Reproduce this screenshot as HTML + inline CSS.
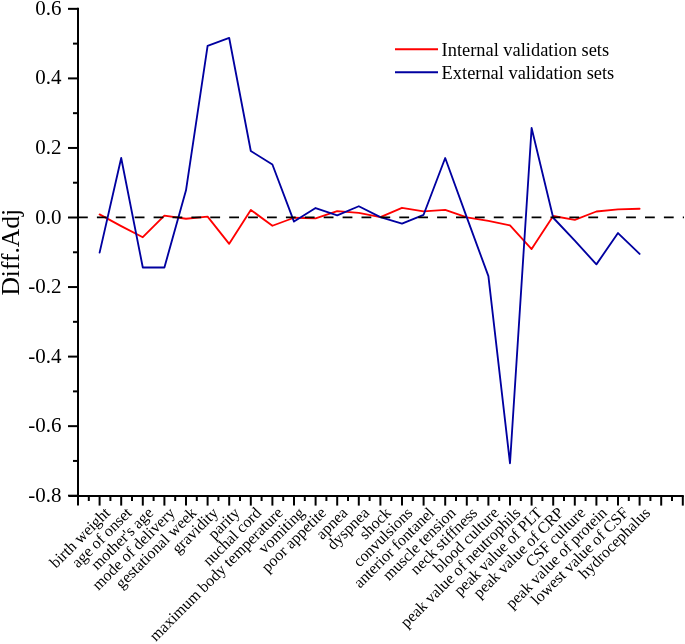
<!DOCTYPE html><html><head><meta charset="utf-8"><style>html,body{margin:0;padding:0;background:#fff;}svg{display:block;will-change:transform;}text{font-family:"Liberation Serif",serif;fill:#000;}</style></head><body>
<svg width="685" height="644" viewBox="0 0 685 644">
<line x1="78.0" y1="7.85" x2="78.0" y2="495.99999999999994" stroke="#000" stroke-width="2"/>
<line x1="68.0" y1="8.85" x2="78.0" y2="8.85" stroke="#000" stroke-width="2"/>
<line x1="73.0" y1="43.62" x2="78.0" y2="43.62" stroke="#000" stroke-width="2"/>
<text x="61.6" y="14.85" font-size="21.0" text-anchor="end">0.6</text>
<line x1="68.0" y1="78.40" x2="78.0" y2="78.40" stroke="#000" stroke-width="2"/>
<line x1="73.0" y1="113.17" x2="78.0" y2="113.17" stroke="#000" stroke-width="2"/>
<text x="61.6" y="84.40" font-size="21.0" text-anchor="end">0.4</text>
<line x1="68.0" y1="147.95" x2="78.0" y2="147.95" stroke="#000" stroke-width="2"/>
<line x1="73.0" y1="182.72" x2="78.0" y2="182.72" stroke="#000" stroke-width="2"/>
<text x="61.6" y="153.95" font-size="21.0" text-anchor="end">0.2</text>
<line x1="68.0" y1="217.50" x2="78.0" y2="217.50" stroke="#000" stroke-width="2"/>
<line x1="73.0" y1="252.28" x2="78.0" y2="252.28" stroke="#000" stroke-width="2"/>
<text x="61.6" y="223.50" font-size="21.0" text-anchor="end">0.0</text>
<line x1="68.0" y1="287.05" x2="78.0" y2="287.05" stroke="#000" stroke-width="2"/>
<line x1="73.0" y1="321.82" x2="78.0" y2="321.82" stroke="#000" stroke-width="2"/>
<text x="61.6" y="293.05" font-size="21.0" text-anchor="end">-0.2</text>
<line x1="68.0" y1="356.60" x2="78.0" y2="356.60" stroke="#000" stroke-width="2"/>
<line x1="73.0" y1="391.38" x2="78.0" y2="391.38" stroke="#000" stroke-width="2"/>
<text x="61.6" y="362.60" font-size="21.0" text-anchor="end">-0.4</text>
<line x1="68.0" y1="426.15" x2="78.0" y2="426.15" stroke="#000" stroke-width="2"/>
<line x1="73.0" y1="460.93" x2="78.0" y2="460.93" stroke="#000" stroke-width="2"/>
<text x="61.6" y="432.15" font-size="21.0" text-anchor="end">-0.6</text>
<line x1="68.0" y1="495.70" x2="78.0" y2="495.70" stroke="#000" stroke-width="2"/>
<text x="61.6" y="501.70" font-size="21.0" text-anchor="end">-0.8</text>
<line x1="69.0" y1="496.00" x2="683.8000000000001" y2="496.00" stroke="#000" stroke-width="2"/>
<line x1="78.00" y1="496.00" x2="78.00" y2="505.60" stroke="#000" stroke-width="2"/>
<line x1="88.80" y1="496.00" x2="88.80" y2="501.00" stroke="#000" stroke-width="2"/>
<line x1="99.60" y1="496.00" x2="99.60" y2="505.60" stroke="#000" stroke-width="2"/>
<line x1="110.40" y1="496.00" x2="110.40" y2="501.00" stroke="#000" stroke-width="2"/>
<line x1="121.20" y1="496.00" x2="121.20" y2="505.60" stroke="#000" stroke-width="2"/>
<line x1="132.00" y1="496.00" x2="132.00" y2="501.00" stroke="#000" stroke-width="2"/>
<line x1="142.80" y1="496.00" x2="142.80" y2="505.60" stroke="#000" stroke-width="2"/>
<line x1="153.60" y1="496.00" x2="153.60" y2="501.00" stroke="#000" stroke-width="2"/>
<line x1="164.40" y1="496.00" x2="164.40" y2="505.60" stroke="#000" stroke-width="2"/>
<line x1="175.20" y1="496.00" x2="175.20" y2="501.00" stroke="#000" stroke-width="2"/>
<line x1="186.00" y1="496.00" x2="186.00" y2="505.60" stroke="#000" stroke-width="2"/>
<line x1="196.80" y1="496.00" x2="196.80" y2="501.00" stroke="#000" stroke-width="2"/>
<line x1="207.60" y1="496.00" x2="207.60" y2="505.60" stroke="#000" stroke-width="2"/>
<line x1="218.40" y1="496.00" x2="218.40" y2="501.00" stroke="#000" stroke-width="2"/>
<line x1="229.20" y1="496.00" x2="229.20" y2="505.60" stroke="#000" stroke-width="2"/>
<line x1="240.00" y1="496.00" x2="240.00" y2="501.00" stroke="#000" stroke-width="2"/>
<line x1="250.80" y1="496.00" x2="250.80" y2="505.60" stroke="#000" stroke-width="2"/>
<line x1="261.60" y1="496.00" x2="261.60" y2="501.00" stroke="#000" stroke-width="2"/>
<line x1="272.40" y1="496.00" x2="272.40" y2="505.60" stroke="#000" stroke-width="2"/>
<line x1="283.20" y1="496.00" x2="283.20" y2="501.00" stroke="#000" stroke-width="2"/>
<line x1="294.00" y1="496.00" x2="294.00" y2="505.60" stroke="#000" stroke-width="2"/>
<line x1="304.80" y1="496.00" x2="304.80" y2="501.00" stroke="#000" stroke-width="2"/>
<line x1="315.60" y1="496.00" x2="315.60" y2="505.60" stroke="#000" stroke-width="2"/>
<line x1="326.40" y1="496.00" x2="326.40" y2="501.00" stroke="#000" stroke-width="2"/>
<line x1="337.20" y1="496.00" x2="337.20" y2="505.60" stroke="#000" stroke-width="2"/>
<line x1="348.00" y1="496.00" x2="348.00" y2="501.00" stroke="#000" stroke-width="2"/>
<line x1="358.80" y1="496.00" x2="358.80" y2="505.60" stroke="#000" stroke-width="2"/>
<line x1="369.60" y1="496.00" x2="369.60" y2="501.00" stroke="#000" stroke-width="2"/>
<line x1="380.40" y1="496.00" x2="380.40" y2="505.60" stroke="#000" stroke-width="2"/>
<line x1="391.20" y1="496.00" x2="391.20" y2="501.00" stroke="#000" stroke-width="2"/>
<line x1="402.00" y1="496.00" x2="402.00" y2="505.60" stroke="#000" stroke-width="2"/>
<line x1="412.80" y1="496.00" x2="412.80" y2="501.00" stroke="#000" stroke-width="2"/>
<line x1="423.60" y1="496.00" x2="423.60" y2="505.60" stroke="#000" stroke-width="2"/>
<line x1="434.40" y1="496.00" x2="434.40" y2="501.00" stroke="#000" stroke-width="2"/>
<line x1="445.20" y1="496.00" x2="445.20" y2="505.60" stroke="#000" stroke-width="2"/>
<line x1="456.00" y1="496.00" x2="456.00" y2="501.00" stroke="#000" stroke-width="2"/>
<line x1="466.80" y1="496.00" x2="466.80" y2="505.60" stroke="#000" stroke-width="2"/>
<line x1="477.60" y1="496.00" x2="477.60" y2="501.00" stroke="#000" stroke-width="2"/>
<line x1="488.40" y1="496.00" x2="488.40" y2="505.60" stroke="#000" stroke-width="2"/>
<line x1="499.20" y1="496.00" x2="499.20" y2="501.00" stroke="#000" stroke-width="2"/>
<line x1="510.00" y1="496.00" x2="510.00" y2="505.60" stroke="#000" stroke-width="2"/>
<line x1="520.80" y1="496.00" x2="520.80" y2="501.00" stroke="#000" stroke-width="2"/>
<line x1="531.60" y1="496.00" x2="531.60" y2="505.60" stroke="#000" stroke-width="2"/>
<line x1="542.40" y1="496.00" x2="542.40" y2="501.00" stroke="#000" stroke-width="2"/>
<line x1="553.20" y1="496.00" x2="553.20" y2="505.60" stroke="#000" stroke-width="2"/>
<line x1="564.00" y1="496.00" x2="564.00" y2="501.00" stroke="#000" stroke-width="2"/>
<line x1="574.80" y1="496.00" x2="574.80" y2="505.60" stroke="#000" stroke-width="2"/>
<line x1="585.60" y1="496.00" x2="585.60" y2="501.00" stroke="#000" stroke-width="2"/>
<line x1="596.40" y1="496.00" x2="596.40" y2="505.60" stroke="#000" stroke-width="2"/>
<line x1="607.20" y1="496.00" x2="607.20" y2="501.00" stroke="#000" stroke-width="2"/>
<line x1="618.00" y1="496.00" x2="618.00" y2="505.60" stroke="#000" stroke-width="2"/>
<line x1="628.80" y1="496.00" x2="628.80" y2="501.00" stroke="#000" stroke-width="2"/>
<line x1="639.60" y1="496.00" x2="639.60" y2="505.60" stroke="#000" stroke-width="2"/>
<line x1="650.40" y1="496.00" x2="650.40" y2="501.00" stroke="#000" stroke-width="2"/>
<line x1="661.20" y1="496.00" x2="661.20" y2="505.60" stroke="#000" stroke-width="2"/>
<line x1="672.00" y1="496.00" x2="672.00" y2="501.00" stroke="#000" stroke-width="2"/>
<line x1="682.80" y1="496.00" x2="682.80" y2="505.60" stroke="#000" stroke-width="2"/>
<polyline points="99.60,214.41 121.20,226.09 142.80,237.22 164.40,215.66 186.00,218.79 207.60,216.70 229.20,243.83 250.80,209.89 272.40,225.75 294.00,217.75 315.60,218.44 337.20,211.14 358.80,212.88 380.40,217.05 402.00,207.80 423.60,211.31 445.20,209.89 466.80,217.40 488.40,220.88 510.00,225.40 531.60,249.05 553.20,216.01 574.80,219.83 596.40,211.49 618.00,209.40 639.60,208.71" fill="none" stroke="#ff0000" stroke-width="1.85" stroke-linejoin="round" stroke-linecap="round"/>
<polyline points="99.60,252.66 121.20,158.00 142.80,267.48 164.40,267.48 186.00,190.28 207.60,45.79 229.20,37.96 250.80,150.98 272.40,164.54 294.00,221.57 315.60,208.01 337.20,215.38 358.80,206.27 380.40,217.05 402.00,223.66 423.60,214.79 445.20,158.04 466.80,217.40 488.40,276.17 510.00,463.29 531.60,128.03 553.20,217.75 574.80,240.70 596.40,264.35 618.00,233.05 639.60,253.91" fill="none" stroke="#0000a0" stroke-width="1.85" stroke-linejoin="round" stroke-linecap="round"/>
<line x1="78.0" y1="217.40" x2="684" y2="217.40" stroke="#000" stroke-width="1.8" stroke-dasharray="9.8 9.1"/>
<text x="111.05" y="513.75" font-size="16.0" text-anchor="end" transform="rotate(-45 111.05 513.75)">birth weight</text>
<text x="132.65" y="513.75" font-size="16.0" text-anchor="end" transform="rotate(-45 132.65 513.75)">age of onset</text>
<text x="154.25" y="513.75" font-size="16.0" text-anchor="end" transform="rotate(-45 154.25 513.75)">mother&#39;s age</text>
<text x="175.85" y="513.75" font-size="16.0" text-anchor="end" transform="rotate(-45 175.85 513.75)">mode of delivery</text>
<text x="197.45" y="513.75" font-size="16.0" text-anchor="end" transform="rotate(-45 197.45 513.75)">gestational week</text>
<text x="219.05" y="513.75" font-size="16.0" text-anchor="end" transform="rotate(-45 219.05 513.75)">gravidity</text>
<text x="240.65" y="513.75" font-size="16.0" text-anchor="end" transform="rotate(-45 240.65 513.75)">parity</text>
<text x="262.25" y="513.75" font-size="16.0" text-anchor="end" transform="rotate(-45 262.25 513.75)">nuchal cord</text>
<text x="283.85" y="513.75" font-size="16.0" text-anchor="end" transform="rotate(-45 283.85 513.75)">maximum body temperature</text>
<text x="305.45" y="513.75" font-size="16.0" text-anchor="end" transform="rotate(-45 305.45 513.75)">vomiting</text>
<text x="327.05" y="513.75" font-size="16.0" text-anchor="end" transform="rotate(-45 327.05 513.75)">poor appetite</text>
<text x="348.65" y="513.75" font-size="16.0" text-anchor="end" transform="rotate(-45 348.65 513.75)">apnea</text>
<text x="370.25" y="513.75" font-size="16.0" text-anchor="end" transform="rotate(-45 370.25 513.75)">dyspnea</text>
<text x="391.85" y="513.75" font-size="16.0" text-anchor="end" transform="rotate(-45 391.85 513.75)">shock</text>
<text x="413.45" y="513.75" font-size="16.0" text-anchor="end" transform="rotate(-45 413.45 513.75)">convulsions</text>
<text x="435.05" y="513.75" font-size="16.0" text-anchor="end" transform="rotate(-45 435.05 513.75)">anterior fontanel</text>
<text x="456.65" y="513.75" font-size="16.0" text-anchor="end" transform="rotate(-45 456.65 513.75)">muscle tension</text>
<text x="478.25" y="513.75" font-size="16.0" text-anchor="end" transform="rotate(-45 478.25 513.75)">neck stiffness</text>
<text x="499.85" y="513.75" font-size="16.0" text-anchor="end" transform="rotate(-45 499.85 513.75)">blood culture</text>
<text x="521.45" y="513.75" font-size="16.0" text-anchor="end" transform="rotate(-45 521.45 513.75)">peak value of neutrophils</text>
<text x="543.05" y="513.75" font-size="16.0" text-anchor="end" transform="rotate(-45 543.05 513.75)">peak value of PLT</text>
<text x="564.65" y="513.75" font-size="16.0" text-anchor="end" transform="rotate(-45 564.65 513.75)">peak value of CRP</text>
<text x="586.25" y="513.75" font-size="16.0" text-anchor="end" transform="rotate(-45 586.25 513.75)">CSF culture</text>
<text x="607.85" y="513.75" font-size="16.0" text-anchor="end" transform="rotate(-45 607.85 513.75)">peak value of protein</text>
<text x="629.45" y="513.75" font-size="16.0" text-anchor="end" transform="rotate(-45 629.45 513.75)">lowest value of CSF</text>
<text x="651.05" y="513.75" font-size="16.0" text-anchor="end" transform="rotate(-45 651.05 513.75)">hydrocephalus</text>
<text x="18.9" y="295.6" font-size="25.5" text-anchor="start" transform="rotate(-90 18.9 295.6)">Diff.Adj</text>
<line x1="395" y1="49.2" x2="438" y2="49.2" stroke="#ff0000" stroke-width="2"/>
<line x1="395" y1="72.2" x2="438" y2="72.2" stroke="#0000a0" stroke-width="2"/>
<text x="441.6" y="55.7" font-size="18.4">Internal validation sets</text>
<text x="441.6" y="78.5" font-size="18.4">External validation sets</text>
</svg></body></html>
